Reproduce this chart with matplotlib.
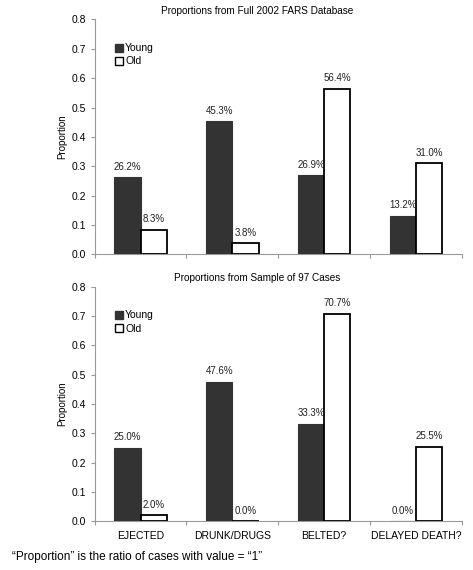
import numpy as np
import matplotlib.pyplot as plt
from matplotlib.patches import Patch

categories = ["EJECTED", "DRUNK/DRUGS", "BELTED?", "DELAYED DEATH?"]

full_young = [0.262, 0.453, 0.269, 0.132]
full_old = [0.083, 0.038, 0.564, 0.310]

sample_young = [0.250, 0.476, 0.333, 0.000]
sample_old = [0.020, 0.000, 0.707, 0.255]

titles = ["Proportions from Full 2002 FARS Database",
          "Proportions from Sample of 97 Cases"]
footnote = "\u201cProportion\u201d is the ratio of cases with value = \u201c1\u201d"

plt.rcParams['font.family'] = ['Liberation Sans', 'DejaVu Sans']
plt.rcParams['font.size'] = 7

YOUNG_COLOR = "#333333"
SPINE_COLOR = "#999999"
BAR_W = 0.286

fig = plt.figure(figsize=(4.73, 5.70), dpi=100)
ax_top = fig.add_axes([0.2002, 0.5539, 0.776, 0.412])
ax_bot = fig.add_axes([0.2002, 0.0854, 0.776, 0.4116])


def draw_panel(ax, young, old, title, show_xlabels):
    x = np.arange(len(categories))
    ax.bar(x - BAR_W / 2, young, BAR_W, color=YOUNG_COLOR, edgecolor=YOUNG_COLOR,
           linewidth=0.8, zorder=3)
    ax.bar(x + BAR_W / 2, old, BAR_W, color="white", edgecolor="black",
           linewidth=1.3, zorder=3)
    for xi, v in zip(x, young):
        ax.annotate(f"{v * 100:.1f}%", (xi - BAR_W / 2, v), xytext=(0, 4),
                    textcoords="offset points", ha="center", va="bottom",
                    fontsize=7, color="#222222")
    for xi, v in zip(x, old):
        ax.annotate(f"{v * 100:.1f}%", (xi + BAR_W / 2, v), xytext=(0, 4),
                    textcoords="offset points", ha="center", va="bottom",
                    fontsize=7, color="#222222")

    ax.set_xlim(-0.5, len(categories) - 0.5)
    ax.set_ylim(0, 0.8)
    ax.set_yticks(np.arange(0, 0.81, 0.1))
    ax.set_yticklabels([f"{t:.1f}" for t in np.arange(0, 0.81, 0.1)], fontsize=7.5)
    ax.set_xticks(np.arange(-0.5, len(categories)), minor=False)
    ax.set_xticklabels([])
    if show_xlabels:
        ax.set_xticks(x, minor=True)
        ax.set_xticklabels(categories, minor=True, fontsize=7.5)
    ax.tick_params(axis="x", which="minor", length=0, pad=7)
    ax.tick_params(axis="x", which="major", length=3, color=SPINE_COLOR)
    ax.tick_params(axis="y", length=3, color=SPINE_COLOR, pad=3)

    for side in ["top", "right"]:
        ax.spines[side].set_visible(False)
    for side in ["left", "bottom"]:
        ax.spines[side].set_color(SPINE_COLOR)
        ax.spines[side].set_linewidth(0.8)

    ax.set_ylabel("Proportion", fontsize=7, labelpad=3)
    ax.set_title(title, fontsize=7.2, pad=4, x=0.442)

    handles = [Patch(facecolor=YOUNG_COLOR, edgecolor=YOUNG_COLOR, label="Young"),
               Patch(facecolor="white", edgecolor="black", linewidth=1.0, label="Old")]
    ax.legend(handles=handles, loc="upper left", bbox_to_anchor=(0.035, 0.93),
              frameon=False, fontsize=7.5, handlelength=0.8, handleheight=0.8,
              handletextpad=0.2, labelspacing=0.3, borderpad=0.2)


draw_panel(ax_top, full_young, full_old, titles[0], False)
draw_panel(ax_bot, sample_young, sample_old, titles[1], True)

fig.text(0.025, 0.012, footnote, fontsize=8.5, ha="left", va="bottom")

fig.savefig("out.png", dpi=100)
